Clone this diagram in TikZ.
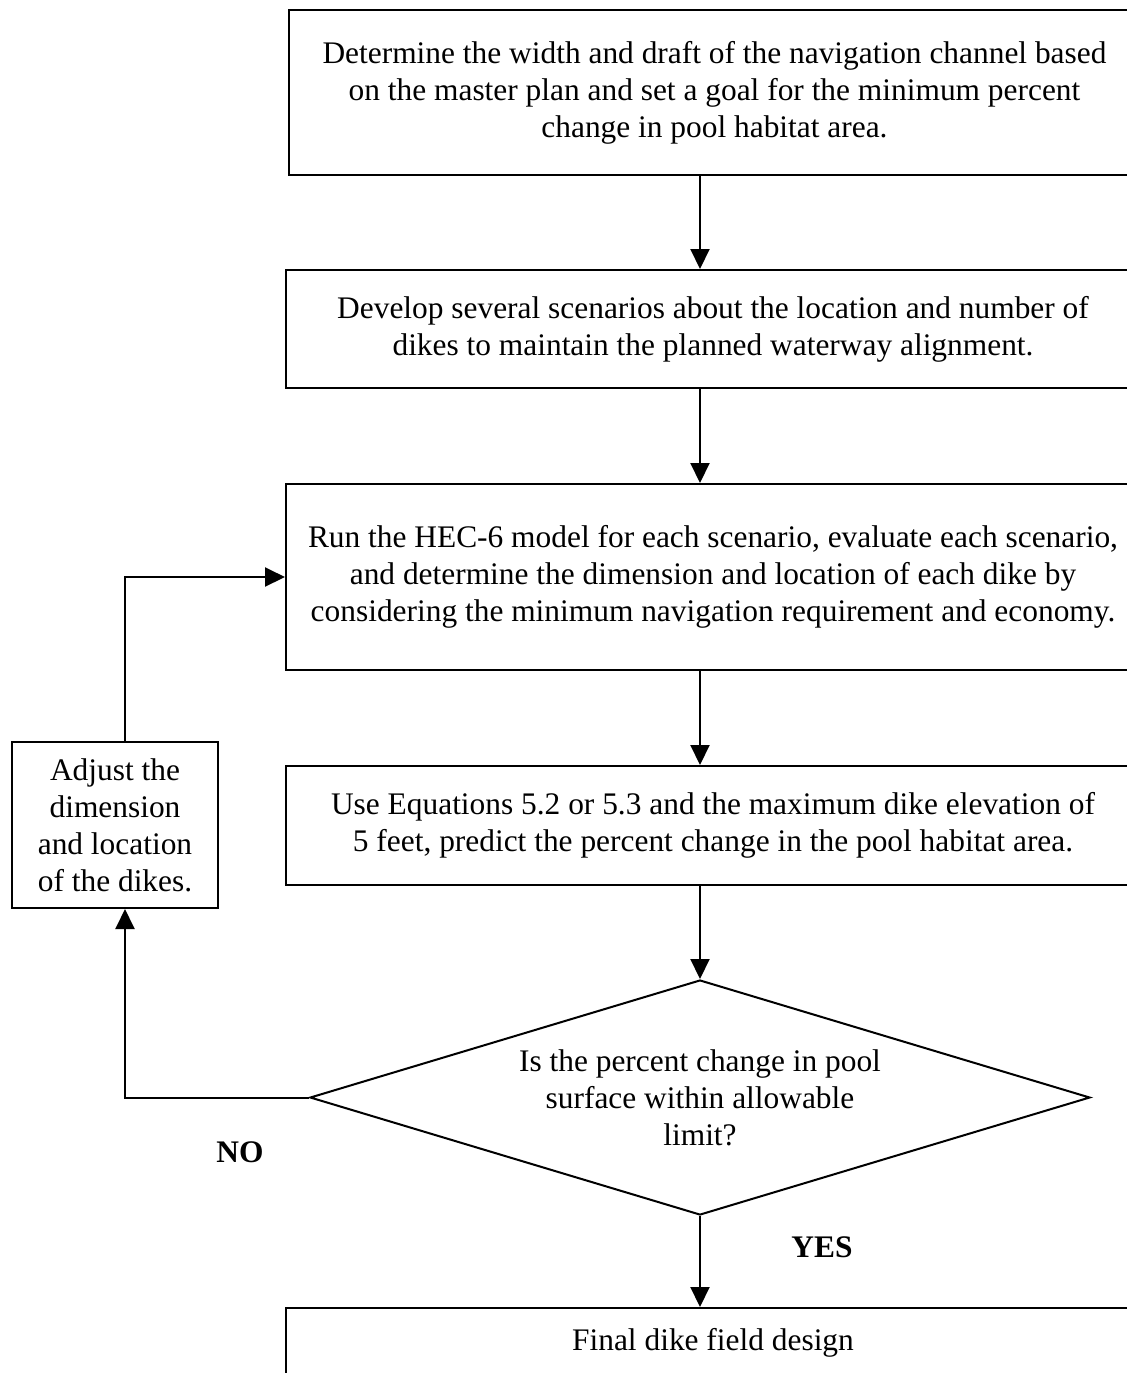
\documentclass[tikz,border=0pt]{standalone}
\usepackage{fontspec}
\setmainfont{Liberation Serif}
\usepackage{tikz}
\usetikzlibrary{shapes.geometric,arrows.meta,calc}
\newcommand{\chartfont}{\fontsize{15.7}{18.5}\selectfont}
\tikzset{
    process/.style={rectangle, draw, line width=1pt, minimum width=427pt, align=center, font=\chartfont, inner sep=0pt},
    sidebox/.style={rectangle, draw, line width=1pt, minimum width=103pt, minimum height=83pt, align=center, font=\chartfont, inner sep=0pt},
    decision/.style={diamond, draw, line width=1pt, aspect=3.32, minimum width=390pt, minimum height=117.5pt, align=center, font=\chartfont, inner sep=0pt},
    answer/.style={font=\chartfont\bfseries},
    flow/.style={-{Triangle[length=10pt, width=9.5pt]}, line width=1pt},
}

\begin{document}
\begin{tikzpicture}[x=0.5pt, y=-0.5pt]
    \useasboundingbox (0,0) rectangle (1127,1373);
    \clip (0,0) rectangle (1127,1373);

    \node[process, minimum width=425.5pt, minimum height=82.5pt] (goal) at (714.5,92.5) {Determine the width and draft of the navigation channel based\\on the master plan and set a goal for the minimum percent\\change in pool habitat area.};
    \node[process, minimum height=59pt] (scen) at (713,329) {Develop several scenarios about the location and number of\\dikes to maintain the planned waterway alignment.};
    \node[process, minimum height=93pt] (hec) at (713,577) {Run the HEC-6 model for each scenario, evaluate each scenario,\\and determine the dimension and location of each dike by\\considering the minimum navigation requirement and economy.};
    \node[process, minimum height=59.5pt] (pred) at (713,825.5) {Use Equations 5.2 or 5.3 and the maximum dike elevation of\\5 feet, predict the percent change in the pool habitat area.};
    \node[decision] (check) at (700,1097.5) {Is the percent change in pool\\surface within allowable\\limit?};
    \node[process, minimum height=35pt] (final) at (713,1343) {Final dike field design};
    \node[sidebox] (adjust) at (115,825) {Adjust the\\dimension\\and location\\of the dikes.};
    \node[answer] (no) at (240,1152) {NO};
    \node[answer] (yes) at (822,1247) {YES};

    \draw[flow] (goal.south -| check.north) -- (scen.north -| check.north);
    \draw[flow] (scen.south -| check.north) -- (hec.north -| check.north);
    \draw[flow] (hec.south -| check.north) -- (pred.north -| check.north);
    \draw[flow] (pred.south -| check.north) -- (check.north);
    \draw[flow] (check.south) -- (final.north -| check.south);
    \draw[flow] (check.west) -| ([xshift=5pt]adjust.south);
    \draw[flow] ([xshift=5pt]adjust.north) |- (hec.west);
\end{tikzpicture}
\end{document}
